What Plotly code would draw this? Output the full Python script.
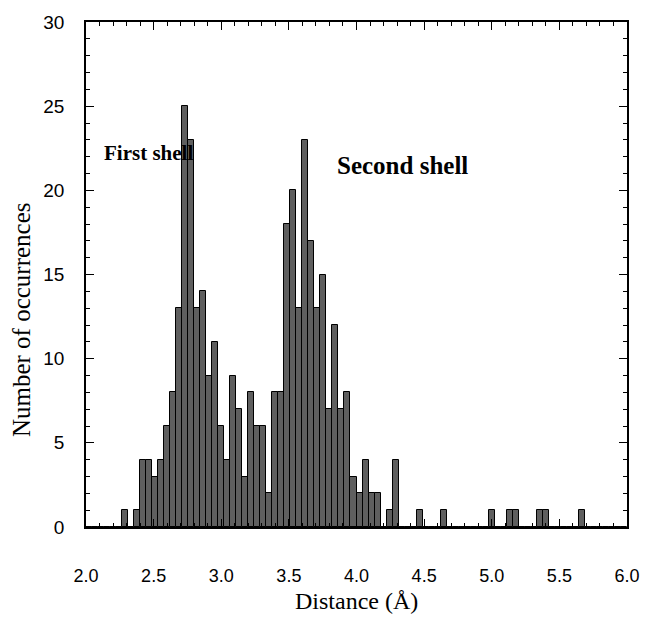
import numpy as np
import plotly.graph_objects as go

# Histogram: 90 bins spanning 2.0-6.0 Å
bin_start = 2.0
bin_end = 6.0
n_bins = 90
counts = [
    0, 0, 0, 0, 0, 0, 1, 0, 1, 4,
    4, 3, 4, 6, 8, 13, 25, 23, 13, 14,
    9, 11, 6, 4, 9, 7, 3, 8, 6, 6,
    2, 8, 8, 18, 20, 13, 23, 17, 13, 15,
    7, 12, 7, 8, 3, 2, 4, 2, 2, 0,
    1, 4, 0, 0, 0, 1, 0, 0, 0, 1,
    0, 0, 0, 0, 0, 0, 0, 1, 0, 0,
    1, 1, 0, 0, 0, 1, 1, 0, 0, 0,
    0, 0, 1, 0, 0, 0, 0, 0, 0, 0,
]
x_ticks = [2.0, 2.5, 3.0, 3.5, 4.0, 4.5, 5.0, 5.5, 6.0]
y_ticks = [0, 5, 10, 15, 20, 25, 30]

edges = np.linspace(bin_start, bin_end, n_bins + 1)
centers = (edges[:-1] + edges[1:]) / 2
width = edges[1] - edges[0]

fig = go.Figure()
fig.add_trace(go.Bar(
    x=centers, y=counts, width=width,
    marker=dict(color="#5f5f5f", line=dict(color="black", width=1)),
    showlegend=False,
))
# invisible trace to draw the mirrored (top/right) tick axes
fig.add_trace(go.Scatter(x=[bin_start], y=[0], xaxis="x2", yaxis="y2",
                         mode="markers", marker=dict(opacity=0), showlegend=False,
                         hoverinfo="skip"))

serif = "Liberation Serif"
sans = "Liberation Sans"

common = dict(ticks="inside", ticklen=8, tickwidth=1.2, tickcolor="black",
              showline=True, linecolor="black", linewidth=1.5,
              showgrid=False, zeroline=False)

fig.update_layout(
    width=652, height=618,
    margin=dict(l=86, r=15, t=17, b=91),
    paper_bgcolor="white", plot_bgcolor="white",
    bargap=0,
    xaxis=dict(
        range=[2.0, 6.0], tickvals=x_ticks, ticktext=[f"{v:.1f}" for v in x_ticks],
        minor=dict(dtick=0.1, tick0=2.0, ticks="inside", ticklen=4, tickcolor="black", tickwidth=1),
        tickfont=dict(family=sans, size=18, color="black"),
        ticklabelstandoff=32, **common,
    ),
    yaxis=dict(
        range=[0, 30], tickvals=y_ticks,
        minor=dict(dtick=1, tick0=0, ticks="inside", ticklen=4, tickcolor="black", tickwidth=1),
        tickfont=dict(family=sans, size=19, color="black"),
        ticklabelstandoff=16, **common,
    ),
    xaxis2=dict(
        range=[2.0, 6.0], tickvals=x_ticks, showticklabels=False, overlaying="x",
        side="top", anchor="y2",
        minor=dict(dtick=0.1, tick0=2.0, ticks="inside", ticklen=4, tickcolor="black", tickwidth=1),
        **common,
    ),
    yaxis2=dict(
        range=[0, 30], tickvals=y_ticks, showticklabels=False, overlaying="y",
        side="right", anchor="x2",
        minor=dict(dtick=1, tick0=0, ticks="inside", ticklen=4, tickcolor="black", tickwidth=1),
        **common,
    ),
    annotations=[
        dict(text="<b>First shell</b>", x=2.46, y=22.2, xref="x", yref="y", showarrow=False,
             font=dict(family=serif, size=21, color="black"), xanchor="center", yanchor="middle"),
        dict(text="<b>Second shell</b>", x=4.34, y=21.5, xref="x", yref="y", showarrow=False,
             font=dict(family=serif, size=25, color="black"), xanchor="center", yanchor="middle"),
        dict(text="Distance (Å)", x=0.5, y=-0.147, xref="paper", yref="paper", showarrow=False,
             font=dict(family=serif, size=24, color="black"), xanchor="center", yanchor="middle"),
        dict(text="Number of occurrences", x=-0.118, y=0.41, xref="paper", yref="paper", showarrow=False,
             textangle=-90, font=dict(family=serif, size=25, color="black"),
             xanchor="center", yanchor="middle"),
    ],
)

fig.write_html("out.html", post_script="document.body.style.margin='0';",
               config={"displayModeBar": False})
